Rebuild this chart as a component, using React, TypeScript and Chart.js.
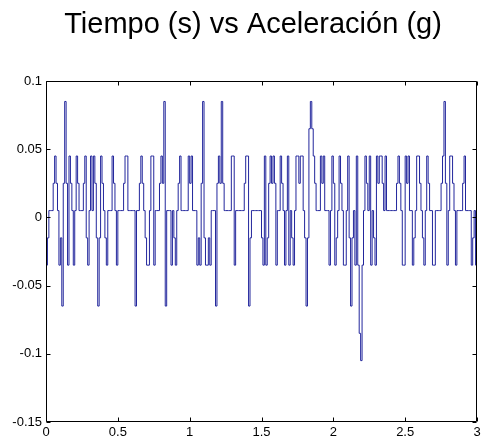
import React, { useEffect, useRef } from 'react';
import { Chart, registerables } from 'chart.js';

Chart.register(...registerables);

const TITLE = 'Tiempo (s) vs Aceleración (g)';
const SAMPLE_PERIOD_S = 0.01;

// Acceleration samples (g), grouped by half-second
const ACCEL_00_05 = [
  -0.035, -0.015, 0.005, 0.005, 0.005, 0.025, 0.045, 0.025, 0.005, -0.035,
  -0.015, -0.065, 0.025, 0.085, 0.025, -0.035, 0.045, 0.025, 0.005, -0.035,
  0.005, 0.045, 0.025, 0.005, 0.005, 0.005, 0.025, 0.045, -0.015, -0.035,
  0.005, 0.045, 0.005, 0.045, 0.025, -0.015, -0.065, -0.015, 0.045, 0.025,
  0.005, -0.015, -0.035, 0.005, 0.005, 0.005, 0.045, 0.025, 0.005, -0.035,
];
const ACCEL_05_10 = [
  0.005, 0.005, 0.005, 0.005, 0.025, 0.045, 0.045, 0.005, 0.005, 0.005,
  0.005, 0.005, -0.065, 0.005, 0.005, 0.025, 0.045, 0.025, 0.005, -0.015,
  -0.035, -0.035, 0.005, 0.045, 0.045, -0.035, 0.005, 0.005, 0.005, 0.025,
  0.045, 0.025, 0.085, -0.065, 0.005, 0.005, 0.005, -0.035, 0.005, -0.015,
  -0.035, 0.005, 0.025, 0.045, 0.005, 0.005, 0.005, 0.005, 0.005, 0.045,
];
const ACCEL_10_15 = [
  0.025, 0.045, 0.005, 0.005, 0.005, -0.035, -0.015, -0.035, 0.025, 0.085,
  -0.015, -0.035, -0.035, -0.015, -0.035, 0.005, 0.005, 0.005, -0.065, 0.025,
  0.045, 0.025, 0.085, 0.025, 0.005, 0.005, 0.005, 0.005, 0.005, 0.045,
  0.045, -0.035, 0.005, 0.005, 0.005, 0.005, 0.005, 0.005, 0.025, 0.045,
  0.045, -0.065, -0.015, 0.005, 0.005, 0.005, 0.005, 0.005, 0.005, 0.005,
];
const ACCEL_15_20 = [
  -0.015, -0.035, 0.045, -0.035, -0.015, 0.025, 0.045, 0.025, 0.045, 0.025,
  -0.035, 0.005, 0.005, 0.045, 0.025, 0.005, -0.035, 0.005, 0.045, -0.035,
  0.005, -0.015, -0.035, 0.005, 0.045, 0.045, 0.025, 0.045, 0.045, 0.005,
  -0.015, -0.065, -0.015, 0.065, 0.085, 0.065, 0.045, 0.025, 0.005, 0.005,
  0.005, 0.045, 0.025, 0.045, 0.005, 0.005, 0.005, -0.035, 0.005, 0.045,
];
const ACCEL_20_25 = [
  0.025, -0.035, -0.015, 0.005, 0.045, 0.025, 0.005, -0.035, -0.035, 0.005,
  0.045, -0.015, -0.065, -0.015, 0.005, -0.035, 0.045, -0.035, -0.085, -0.105,
  -0.035, 0.005, 0.045, 0.025, 0.005, 0.045, -0.035, 0.005, -0.015, -0.035,
  0.045, 0.025, 0.045, 0.045, 0.025, 0.005, 0.045, 0.005, 0.005, 0.005,
  0.005, 0.005, 0.005, 0.005, 0.025, 0.045, 0.025, 0.005, -0.035, -0.035,
];
const ACCEL_25_30 = [
  0.045, 0.025, 0.045, 0.005, 0.005, -0.035, -0.015, 0.005, 0.045, 0.045,
  0.025, 0.005, -0.015, -0.035, 0.005, 0.045, 0.025, 0.005, 0.005, -0.035,
  -0.035, 0.005, 0.005, 0.005, 0.005, 0.025, 0.045, 0.085, 0.025, -0.035,
  0.005, 0.045, 0.045, 0.025, 0.005, -0.035, 0.005, 0.005, 0.005, 0.005,
  0.025, 0.045, 0.005, 0.005, 0.005, 0.005, -0.035, -0.015, 0.005, -0.035, 0.005,
];

const X_TICKS = [0, 0.5, 1, 1.5, 2, 2.5, 3];
const X_TICK_LABELS = ['0', '0.5', '1', '1.5', '2', '2.5', '3'];
const Y_TICKS = [-0.15, -0.1, -0.05, 0, 0.05, 0.1];
const Y_TICK_LABELS = ['-0.15', '-0.1', '-0.05', '0', '0.05', '0.1'];

const FONT_FAMILY = '"Liberation Sans", Arial, Helvetica, sans-serif';

const boxPlugin = {
  id: 'matlabBox',
  afterDraw(chart: any) {
    const { ctx, chartArea } = chart;
    const { left, right, top, bottom } = chartArea;
    const xs = chart.scales.x;
    const ys = chart.scales.y;
    const L = Math.round(left) + 0.5;
    const R = Math.round(right) - 0.5;
    const T = Math.round(top) + 0.5;
    const B = Math.round(bottom) - 0.5;
    ctx.save();
    ctx.strokeStyle = '#000';
    ctx.lineWidth = 1;
    ctx.beginPath();
    ctx.rect(L, T, R - L, B - T);
    const tl = 4;
    X_TICKS.forEach((v) => {
      const px = Math.round(xs.getPixelForValue(v)) + 0.5;
      ctx.moveTo(px, B);
      ctx.lineTo(px, B - tl);
      ctx.moveTo(px, T);
      ctx.lineTo(px, T + tl);
    });
    Y_TICKS.forEach((v) => {
      const py = Math.round(ys.getPixelForValue(v)) + 0.5;
      ctx.moveTo(L, py);
      ctx.lineTo(L + tl, py);
      ctx.moveTo(R, py);
      ctx.lineTo(R - tl, py);
    });
    ctx.stroke();
    ctx.fillStyle = '#000';
    ctx.font = `29px ${FONT_FAMILY}`;
    ctx.textAlign = 'center';
    ctx.textBaseline = 'alphabetic';
    ctx.fillText(TITLE, 253, 33);
    ctx.restore();
  },
};

export default function App() {
  const ref = useRef<HTMLCanvasElement>(null);
  useEffect(() => {
    const accel = [
      ...ACCEL_00_05,
      ...ACCEL_05_10,
      ...ACCEL_10_15,
      ...ACCEL_15_20,
      ...ACCEL_20_25,
      ...ACCEL_25_30,
    ];
    const points = accel.map((v, i) => ({ x: i * SAMPLE_PERIOD_S, y: v }));
    const chart = new Chart(ref.current as HTMLCanvasElement, {
      type: 'line',
      data: {
        datasets: [
          {
            label: 'Aceleración (g)',
            data: points,
            borderColor: '#22269c',
            borderWidth: 1,
            pointRadius: 0,
            stepped: true,
            fill: false,
          },
        ],
      },
      options: {
        animation: false,
        responsive: false,
        devicePixelRatio: 1,
        layout: { padding: { top: 81, right: 0, left: 0, bottom: 0 } },
        plugins: {
          legend: { display: false },
          title: { display: false },
          tooltip: { enabled: false },
        },
        scales: {
          x: {
            type: 'linear',
            min: 0,
            max: 3,
            grid: { display: false, drawTicks: false },
            border: { display: false },
            afterBuildTicks: (scale: any) => {
              scale.ticks = X_TICKS.map((v) => ({ value: v }));
            },
            afterFit: (scale: any) => {
              scale.height = 17;
              scale.paddingRight = 4;
            },
            ticks: {
              autoSkip: false,
              maxRotation: 0,
              padding: 3,
              color: '#000',
              font: { family: FONT_FAMILY, size: 13 },
              callback: (_v: any, i: number) => X_TICK_LABELS[i],
            },
          },
          y: {
            type: 'linear',
            min: -0.15,
            max: 0.1,
            grid: { display: false, drawTicks: false },
            border: { display: false },
            afterBuildTicks: (scale: any) => {
              scale.ticks = Y_TICKS.map((v) => ({ value: v }));
            },
            afterFit: (scale: any) => {
              scale.width = 46;
            },
            ticks: {
              autoSkip: false,
              padding: 4,
              color: '#000',
              font: { family: FONT_FAMILY, size: 13 },
              callback: (_v: any, i: number) => Y_TICK_LABELS[i],
            },
          },
        },
      },
      plugins: [boxPlugin],
    });
    return () => chart.destroy();
  }, []);
  return (
    <div style={{ position: 'fixed', left: 0, top: 0, width: 481, height: 439, background: '#fff' }}>
      <canvas ref={ref} width={481} height={439} style={{ display: 'block', width: 481, height: 439 }} />
    </div>
  );
}
